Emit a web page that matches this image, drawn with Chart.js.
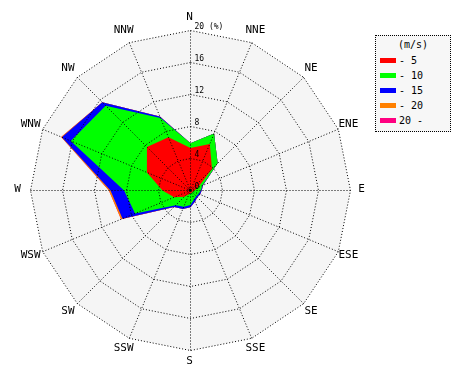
<!DOCTYPE html>
<html>
<head>
<meta charset="utf-8">
<script src="https://cdn.jsdelivr.net/npm/chart.js@4.4.1/dist/chart.umd.min.js"></script>
<style>
  html, body { margin: 0; padding: 0; background: #ffffff; }
  #wrap { position: relative; width: 470px; height: 380px; }
  #c { position: absolute; left: 0; top: 0; }
  #legend {
    position: absolute; left: 375px; top: 35px; width: 76px; height: 97px;
    border: 1px dotted #000; background: #f7f7f7;
    font-family: "DejaVu Sans Mono", monospace; font-size: 10px; color: #000;
    box-sizing: border-box;
  }
  #legend .title { position: absolute; left: 0; width: 100%; top: 3px; text-align: center; line-height: 12px; }
  #legend .row { position: absolute; left: 4px; height: 12px; line-height: 12px; white-space: pre; }
  #legend .sw { display: inline-block; width: 16px; height: 5px; vertical-align: middle; margin-right: 3px; position: relative; top: -1px; }
</style>
</head>
<body>
<div id="wrap">
  <canvas id="c" width="470" height="380"></canvas>
  <div id="legend"></div>
</div>
<script>
// Directions (clockwise from North)
const directions = ['N','NNE','NE','ENE','E','ESE','SE','SSE','S','SSW','SW','WSW','W','WNW','NW','NNW'];

// Cumulative frequency (%) by wind-speed class
const upTo5  = [5.3, 6.3, 3.8, 1.0, 0.5, 0.3, 0.3, 0.3, 0.3, 0.5, 1.1, 2.2, 3.5, 5.9, 7.7, 7.2];
const upTo10 = [5.9, 7.7, 4.8, 1.6, 1.3, 1.1, 1.0, 1.2, 1.8, 2.2, 2.6, 7.5, 8.3, 16.2, 15.0, 9.8];
const upTo15 = [5.9, 7.7, 4.8, 1.7, 1.4, 1.3, 1.2, 1.5, 2.1, 2.5, 2.9, 9.2, 10.0, 17.4, 15.6, 10.0];
const upTo20 = [5.9, 7.7, 4.8, 1.7, 1.4, 1.3, 1.2, 1.5, 2.1, 2.5, 2.9, 9.4, 10.2, 17.5, 15.6, 10.0];
const over20 = [5.9, 7.7, 4.8, 1.7, 1.4, 1.3, 1.2, 1.5, 2.1, 2.5, 2.9, 9.4, 10.2, 17.5, 15.6, 10.0];

const seriesNames = ['- 5', '- 10', '- 15', '- 20', '20 -'];
const seriesColors = ['#ff0000', '#00ff00', '#0000ff', '#ff8000', '#ff0080'];
const seriesData = [upTo5, upTo10, upTo15, upTo20, over20];

const tickValues = [0, 4, 8, 12, 16, 20];
const tickLabels = ['0', '4', '8', '12', '16', '20 (%)'];
const legendTitle = '(m/s)';

const FONT = '"DejaVu Sans Mono", monospace';

const shiftPlugin = {
  id: 'crisp',
  beforeDraw(chart) { chart.ctx.save(); chart.ctx.translate(0.5, 0.5); },
  afterDraw(chart) { chart.ctx.restore(); }
};

const bgPlugin = {
  id: 'polyBg',
  beforeDatasetsDraw(chart) {
    const s = chart.scales.r;
    const ctx = chart.ctx;
    ctx.save();
    ctx.beginPath();
    for (let i = 0; i < directions.length; i++) {
      const p = s.getPointPositionForValue(i, s.max);
      if (i === 0) ctx.moveTo(p.x, p.y); else ctx.lineTo(p.x, p.y);
    }
    ctx.closePath();
    ctx.fillStyle = '#f5f5f5';
    ctx.fill();
    ctx.restore();
  }
};

const labelPlugin = {
  id: 'labels',
  afterDraw(chart) {
    const s = chart.scales.r;
    const ctx = chart.ctx;
    ctx.save();
    ctx.translate(-0.5, -0.5);
    ctx.fillStyle = '#000';
    ctx.font = '11px ' + FONT;
    ctx.textAlign = 'center';
    ctx.textBaseline = 'middle';
    for (let i = 0; i < directions.length; i++) {
      const p = s.getPointPosition(i, s.drawingArea + 12);
      ctx.fillText(directions[i], p.x, p.y);
    }
    ctx.font = '8px ' + FONT;
    ctx.textAlign = 'left';
    for (let k = 0; k < tickValues.length; k++) {
      const d = s.getDistanceFromCenterForValue(tickValues[k]);
      ctx.fillText(tickLabels[k], s.xCenter + 5, s.yCenter - d - 3);
    }
    ctx.beginPath();
    ctx.arc(s.xCenter + 0.5, s.yCenter + 0.5, 1.5, 0, Math.PI * 2);
    ctx.fill();
    ctx.restore();
  }
};

new Chart(document.getElementById('c'), {
  type: 'radar',
  data: {
    labels: directions,
    datasets: seriesData.map((d, i) => ({
      label: seriesNames[i],
      data: d,
      backgroundColor: seriesColors[i],
      borderColor: 'rgba(0,0,0,0)',
      borderWidth: 0,
      pointRadius: 0,
      pointHoverRadius: 0,
      fill: 'origin',
      tension: 0
    }))
  },
  options: {
    responsive: false,
    devicePixelRatio: 1,
    animation: false,
    layout: { padding: { left: 30, top: 30, right: 120, bottom: 30 } },
    plugins: { legend: { display: false }, tooltip: { enabled: false } },
    scales: {
      r: {
        min: 0,
        max: 20,
        startAngle: 0,
        ticks: { display: false, stepSize: 4, z: 1 },
        pointLabels: { display: false },
        grid: { color: '#000', lineWidth: 1, circular: false, borderDash: [1, 2], z: 1 },
        border: { dash: [1, 2] },
        angleLines: { display: true, color: '#000', lineWidth: 1, borderDash: [1, 2] }
      }
    }
  },
  plugins: [shiftPlugin, bgPlugin, labelPlugin]
});

// Legend as HTML text
const lg = document.getElementById('legend');
const t = document.createElement('div');
t.className = 'title';
t.textContent = legendTitle;
lg.appendChild(t);
seriesNames.forEach((n, i) => {
  const r = document.createElement('div');
  r.className = 'row';
  r.style.top = (19 + i * 15) + 'px';
  const sw = document.createElement('span');
  sw.className = 'sw';
  sw.style.background = seriesColors[i];
  r.appendChild(sw);
  r.appendChild(document.createTextNode(n));
  lg.appendChild(r);
});
</script>
</body>
</html>
